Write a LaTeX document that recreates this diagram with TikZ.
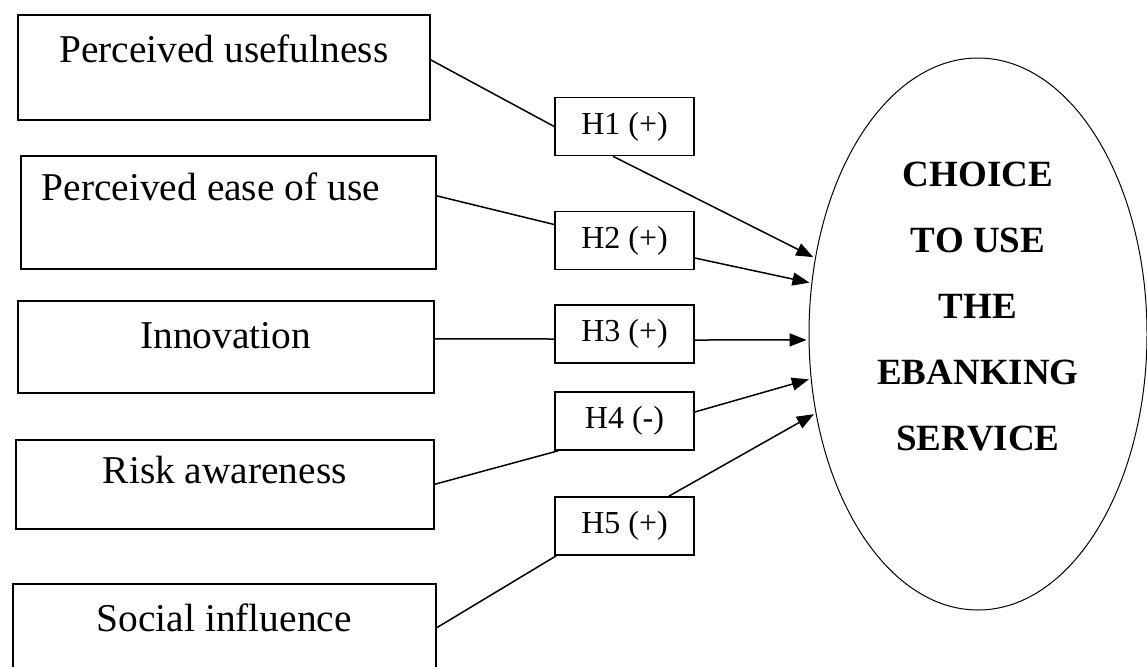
\documentclass[tikz,border=0pt]{standalone}
\usepackage{fontspec}
\setmainfont{Liberation Serif}
\usepackage{tikz}
\usetikzlibrary{arrows.meta, shapes.geometric}

\tikzset{
  factor/.style={draw, line width=0.8pt, inner sep=0pt, anchor=north west,
    font=\fontsize{19.7}{22}\selectfont},
  hyp/.style={draw, line width=0.8pt, minimum width=69.5pt, minimum height=29pt,
    inner sep=0pt, font=\fontsize{16}{18}\selectfont},
  link/.style={line width=0.75pt},
  arr/.style={link, -{Triangle[length=8.5pt,width=6.5pt]}, shorten >=1pt},
}

\begin{document}
\begin{tikzpicture}[x=0.5pt, y=-0.5pt]
            \clip (0,0) rectangle (1147,666);
            % Factors
            \node[factor, minimum width=206pt, text height=24pt, text depth=28.5pt] (pu) at (17,14) {Perceived usefulness};
            \node[factor, inner xsep=10.5pt, text width=186.5pt, align=flush left, text height=22.5pt, text depth=34pt] (peou) at (20,155) {Perceived ease of use};
            \node[factor, minimum width=208pt, text height=24pt, text depth=22pt] (innov) at (17,300) {Innovation};
            \node[factor, minimum width=209pt, text height=22pt, text depth=22.5pt] (risk) at (15,439) {Risk awareness};
            \node[factor, minimum width=211.5pt, text height=24pt, text depth=29.5pt] (social) at (12,583) {Social influence};
            % Hypotheses
            \node[hyp] (h1) at (624.5,126.5) {H1 (+)};
            \node[hyp] (h2) at (624.5,240.5) {H2 (+)};
            \node[hyp] (h3) at (624.5,334) {H3 (+)};
            \node[hyp] (h4) at (624.5,421) {H4 (-)};
            \node[hyp] (h5) at (624.5,526) {H5 (+)};
            % Outcome
            \node[draw, ellipse, line width=0.5pt, minimum width=169pt, minimum height=276pt, inner sep=0pt] (choice) at (978,334) {};
            \node[align=center, font=\fontsize{18.5}{33}\selectfont\bfseries] (choicetext) at ([yshift=13.5pt]choice.center)
              {CHOICE\\TO USE\\THE\\EBANKING\\SERVICE};
            % Factor to hypothesis
            \draw[link] ([yshift=3.75pt]pu.east) -- (h1.west);
            \draw[link] ([yshift=8.25pt]peou.east) -- ([yshift=8pt]h2.west);
            \draw[link] ([yshift=4pt]innov.east) -- ([yshift=-2.5pt]h3.west);
            \draw[link] (risk.east) -- ([xshift=2pt]h4.south west);
            \draw[link] ([yshift=4.75pt]social.east) -- ([xshift=1pt]h5.south west);
            % Hypothesis to outcome
            \draw[arr] ([xshift=-5.75pt]h1.south) -- (choice.155.6);
            \draw[arr] ([yshift=-8.75pt]h2.east) -- (choice.163.6);
            \draw[arr] ([yshift=-3pt]h3.east) -- (choice.182);
            \draw[arr] ([yshift=4.5pt]h4.east) -- (choice.195.1);
            \draw[arr] ([xshift=-13pt]h5.north east) -- (choice.206.3);
        \end{tikzpicture}
\end{document}
